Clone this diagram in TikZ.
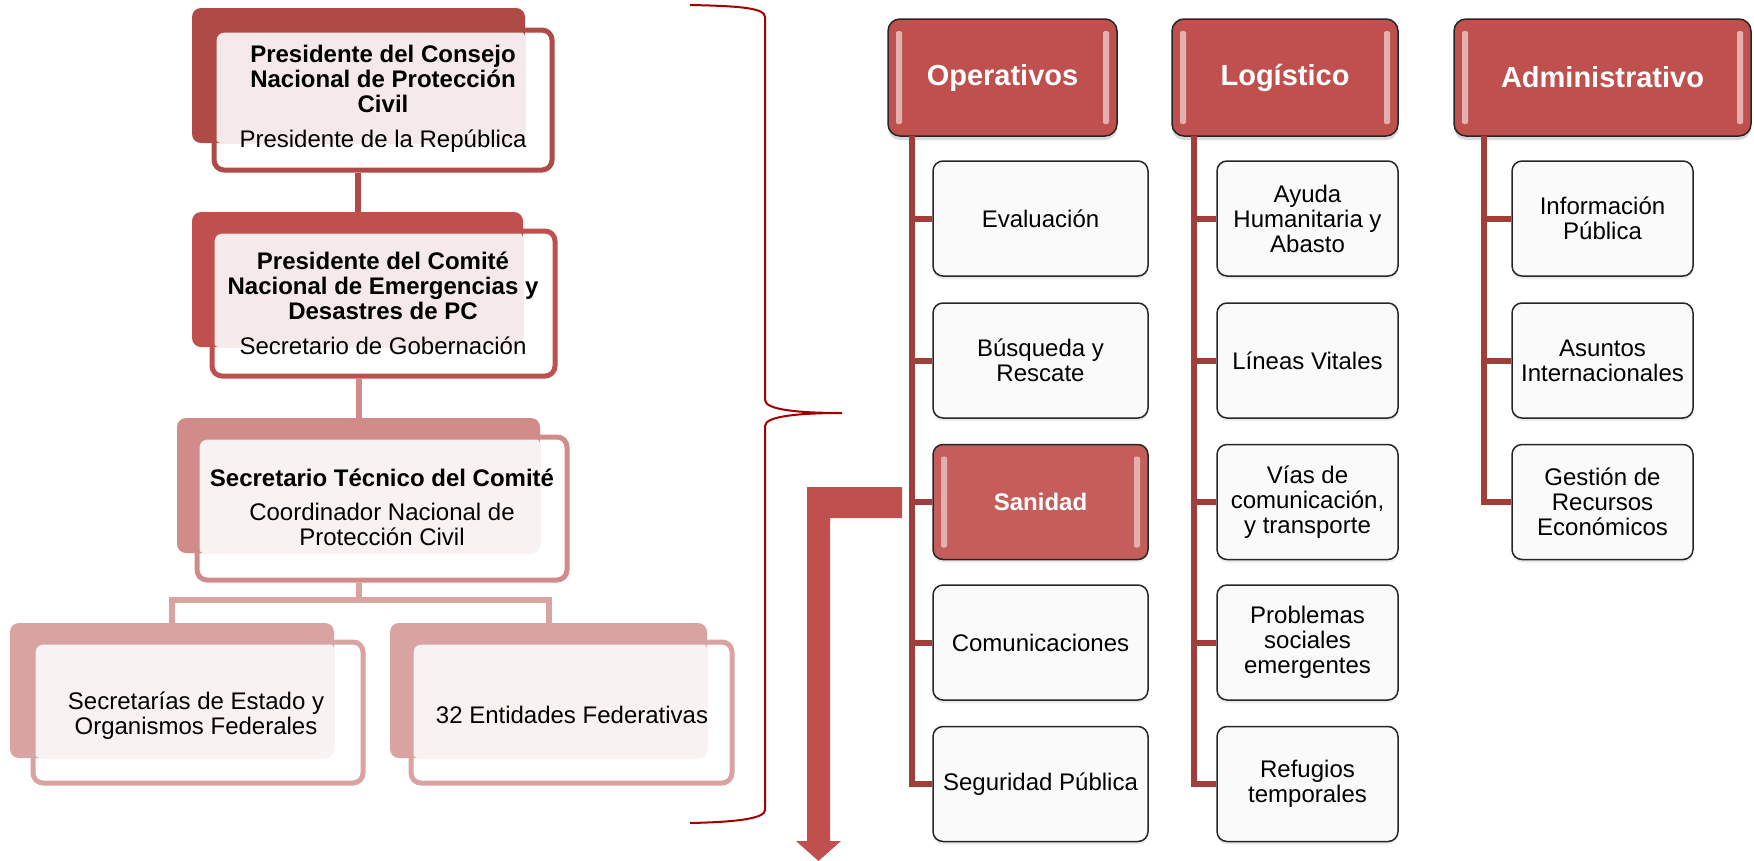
\documentclass[tikz,border=0pt]{standalone}
\usepackage{fontspec}
\setmainfont{Liberation Sans}
\usetikzlibrary{shadows}
\definecolor{redA}{HTML}{AF4A47}
\definecolor{redB}{HTML}{C0504D}
\definecolor{redC}{HTML}{D18B89}
\definecolor{redD}{HTML}{D9A3A2}
\definecolor{tintA}{HTML}{F5E9E9}
\definecolor{tintB}{HTML}{F8F2F2}
\definecolor{hdred}{HTML}{C0504D}
\definecolor{stem}{HTML}{A03E3C}
\definecolor{bracered}{HTML}{A00000}
\tikzstyle{bigback}=[rectangle,rounded corners=9pt,inner sep=0pt]
\tikzstyle{bigframe}=[rectangle,rounded corners=10pt,draw,line width=5pt,inner sep=0pt]
\tikzstyle{bigtxt}=[align=center,font=\fontsize{24}{25}\selectfont,inner sep=0pt]
\tikzstyle{gloss}=[path picture={
  \fill[white!55!hdred,rounded corners=2pt] ([xshift=8pt,yshift=-12pt]path picture bounding box.north west) rectangle ([xshift=14pt,yshift=12pt]path picture bounding box.south west);
  \fill[white!55!hdred,rounded corners=2pt] ([xshift=-8pt,yshift=-12pt]path picture bounding box.north east) rectangle ([xshift=-14pt,yshift=12pt]path picture bounding box.south east);
}]
\tikzstyle{grouphead}=[rectangle,rounded corners=12pt,draw=black!85,line width=1.5pt,fill=hdred,text=white,font=\fontsize{29}{32}\selectfont\bfseries,minimum height=117pt,drop shadow={shadow xshift=0pt,shadow yshift=-4pt,opacity=.3},gloss]
\tikzstyle{groupitem}=[rectangle,rounded corners=10pt,draw=black!85,line width=1.5pt,fill=black!2,minimum height=115pt,align=center,font=\fontsize{24}{25}\selectfont,drop shadow={shadow xshift=0pt,shadow yshift=-3pt,opacity=.15}]
\tikzstyle{edge}=[draw,line width=6pt,-]
\tikzstyle{stemline}=[draw=stem,line width=6pt,-]

\begin{document}
\begin{tikzpicture}[x=1pt,y=-1pt]
        \useasboundingbox (0,0) rectangle (1754,860);
        % left chain
        \node[bigback,fill=redA,minimum width=333pt,minimum height=135pt] (p1b) at (358.5,75.5) {};
        \fill[tintA,rounded corners=8pt] (214,30) rectangle (p1b.south east);
        \node[bigframe,draw=redA,minimum width=338pt,minimum height=140pt] (p1) at (383,100) {};
        \node[bigtxt] (t1) at (383,99) {\textbf{Presidente del Consejo}\\ \textbf{Nacional de Protección}\\ \textbf{Civil}\\[10pt] Presidente de la República};

        \node[bigback,fill=redB,minimum width=331pt,minimum height=135pt] (p2b) at (357.5,279.5) {};
        \fill[tintA,rounded corners=8pt] (212,231) rectangle (p2b.south east);
        \node[bigframe,draw=redB,minimum width=343pt,minimum height=145pt] (p2) at (383.5,303.5) {};
        \node[bigtxt] (t2) at (383,303) {\textbf{Presidente del Comité}\\ \textbf{Nacional de Emergencias y}\\ \textbf{Desastres de PC}\\[10pt] Secretario de Gobernación};

        \node[bigback,fill=redC,minimum width=363pt,minimum height=135pt] (p3b) at (358.5,485.5) {};
        \fill[tintB,rounded corners=8pt] (197,437) rectangle (p3b.south east);
        \node[bigframe,draw=redC,minimum width=370pt,minimum height=143pt] (p3) at (382,508.5) {};
        \node[bigtxt] (t3) at (382,507) {\textbf{Secretario Técnico del Comité}\\[9pt] Coordinador Nacional de\\ Protección Civil};

        \node[bigback,fill=redD,minimum width=324pt,minimum height=135pt] (p4b) at (172,690.5) {};
        \fill[tintB,rounded corners=8pt] (33,642) rectangle (p4b.south east);
        \node[bigframe,draw=redD,minimum width=330pt,minimum height=141pt] (p4) at (198,712.5) {};
        \node[bigtxt] (t4) at (196,716) {Secretarías de Estado y\\ Organismos Federales};

        \node[bigback,fill=redD,minimum width=317pt,minimum height=135pt] (p5b) at (548.5,690.5) {};
        \fill[tintB,rounded corners=8pt] (411,642) rectangle (p5b.south east);
        \node[bigframe,draw=redD,minimum width=321pt,minimum height=141pt] (p5) at (571.5,712.5) {};
        \node[bigtxt] (t5) at (572,715) {32 Entidades Federativas};

        \coordinate (bar) at (358.5,600);
        \draw[edge,redA] (p2b.north |- p1.south) -- (p2b.north);
        \draw[edge,redC] (p3b.north |- p2.south) -- (p3b.north);
        \draw[edge,redD] (p3b.south |- p3.south) -- (bar);
        \draw[edge,redD,line join=miter] (p4b.north) -- (p4b.north |- bar) -- (p5b.north |- bar) -- (p5b.north);

        % brace
        \draw[bracered,line width=2pt] (690,5) .. controls (740,6) and (765,8) .. (765,17) -- (765,400)
              .. controls (765,410) and (800,413) .. (842,413)
              .. controls (800,413) and (765,416) .. (765,426) -- (765,810)
              .. controls (765,818) and (740,822) .. (690,823);

        % bent arrow
        \fill[redB] (902,487) -- (807,487) -- (807,841) -- (796,841) -- (818.5,861) -- (841,841)
              -- (830,841) -- (830,518) -- (902,518) -- cycle;

        % groups
        \node[grouphead,minimum width=229pt] (op) at (1002.5,77.5) {Operativos};
        \node[grouphead,minimum width=226pt] (lo) at (1285,77.5) {Logístico};
        \node[grouphead,minimum width=297pt] (ad) at (1602.5,77.5) {Administrativo};

        \node[groupitem,minimum width=215pt] (o1) at (1040.5,218.5) {Evaluación};
        \node[groupitem,minimum width=215pt] (o2) at (1040.5,360.5) {Búsqueda y\\ Rescate};
        \node[groupitem,minimum width=215pt,fill=hdred!92!white,text=white,font=\fontsize{24}{25}\selectfont\bfseries,gloss] (o3) at (1040.5,502) {Sanidad};
        \node[groupitem,minimum width=215pt] (o4) at (1040.5,642.5) {Comunicaciones};
        \node[groupitem,minimum width=215pt] (o5) at (1040.5,784) {Seguridad Pública};

        \node[groupitem,minimum width=181pt] (l1) at (1307.5,218.5) {Ayuda\\ Humanitaria y\\ Abasto};
        \node[groupitem,minimum width=181pt] (l2) at (1307.5,360.5) {Líneas Vitales};
        \node[groupitem,minimum width=181pt] (l3) at (1307.5,502) {Vías de\\ comunicación,\\ y transporte};
        \node[groupitem,minimum width=181pt] (l4) at (1307.5,642.5) {Problemas\\ sociales\\ emergentes};
        \node[groupitem,minimum width=181pt] (l5) at (1307.5,784) {Refugios\\ temporales};

        \node[groupitem,minimum width=181pt] (a1) at (1602.5,218.5) {Información\\ Pública};
        \node[groupitem,minimum width=181pt] (a2) at (1602.5,360.5) {Asuntos\\ Internacionales};
        \node[groupitem,minimum width=181pt] (a3) at (1602.5,502) {Gestión de\\ Recursos\\ Económicos};

        \coordinate (ost) at (912,136);
        \coordinate (lst) at (1194,136);
        \coordinate (ast) at (1484,136);
        \draw[stemline] (ost) |- (o5.west);
        \draw[stemline] (ost |- o1) -- (o1.west);
        \draw[stemline] (ost |- o2) -- (o2.west);
        \draw[stemline] (ost |- o3) -- (o3.west);
        \draw[stemline] (ost |- o4) -- (o4.west);
        \draw[stemline] (lst) |- (l5.west);
        \draw[stemline] (lst |- l1) -- (l1.west);
        \draw[stemline] (lst |- l2) -- (l2.west);
        \draw[stemline] (lst |- l3) -- (l3.west);
        \draw[stemline] (lst |- l4) -- (l4.west);
        \draw[stemline] (ast) |- (a3.west);
        \draw[stemline] (ast |- a1) -- (a1.west);
        \draw[stemline] (ast |- a2) -- (a2.west);
      \end{tikzpicture}
\end{document}
